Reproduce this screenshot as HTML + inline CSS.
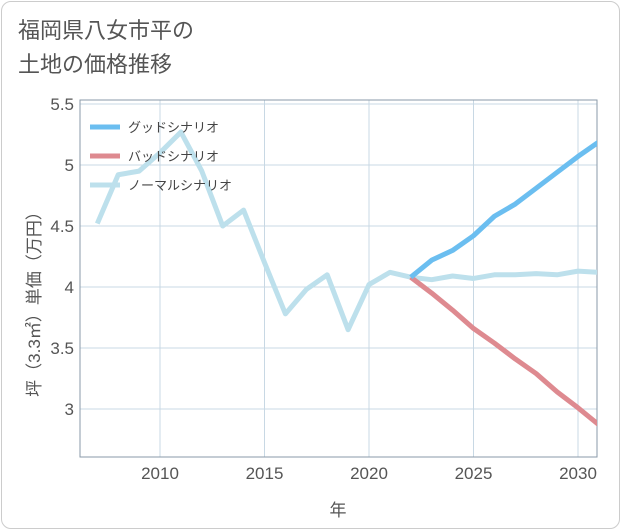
<!DOCTYPE html>
<html><head><meta charset="utf-8"><style>
body{margin:0;background:#fff;font-family:"Liberation Sans","Noto Sans CJK JP",sans-serif;}
#card{position:absolute;left:1px;top:1px;width:617px;height:526px;border:1px solid #ccc;border-radius:10px;background:#fff;}
#title{position:absolute;left:18px;top:14px;font-size:22px;line-height:34px;color:#555;}
</style></head><body>
<div id="card"></div>
<div id="title">福岡県八女市平の<br>土地の価格推移</div>
<svg id="chart" width="621" height="530" style="position:absolute;left:0;top:0"></svg>
<script>
const years=[2007,2008,2009,2010,2011,2012,2013,2014,2015,2016,2017,2018,2019,2020,2021,2022,2023,2024,2025,2026,2027,2028,2029,2030,2031];
const normal=[4.52,4.92,4.95,5.1,5.27,4.95,4.5,4.63,4.2,3.78,3.98,4.1,3.65,4.02,4.12,4.08,4.06,4.09,4.07,4.1,4.1,4.11,4.1,4.13,4.12];
const goodYears=[2022,2023,2024,2025,2026,2027,2028,2029,2030,2031];
const good=[4.08,4.22,4.3,4.42,4.58,4.68,4.81,4.94,5.07,5.19];
const bad=[4.08,3.95,3.81,3.66,3.54,3.41,3.29,3.14,3.01,2.87];
const xTicks=[2010,2015,2020,2025,2030];
const yTicks=[3,3.5,4,4.5,5,5.5];
const yLabels=["3","3.5","4","4.5","5","5.5"];
const L=80,R=597,T=100,B=457;
const x=v=>160+(v-2010)*20.9;
const y=v=>409-(v-3)*122;
const svg=document.getElementById('chart');
const NS='http://www.w3.org/2000/svg';
function mk(t,a,p){const e=document.createElementNS(NS,t);for(const k in a)e.setAttribute(k,a[k]);(p||svg).appendChild(e);return e;}
const defs=mk('defs',{});const cp=mk('clipPath',{id:'c'},defs);mk('rect',{x:L,y:T,width:R-L,height:B-T},cp);
for(let i=0;i<yTicks.length;i++){const v=yTicks[i];
 const g=mk('line',{x1:L,x2:R,y1:y(v),y2:y(v),stroke:'#c8d8e4','stroke-width':1});
 
 const t=mk('text',{x:L-6,y:y(v)+6,'text-anchor':'end','font-size':17,fill:'#555'});t.textContent=yLabels[i];
 }
for(const v of xTicks){
 const g=mk('line',{x1:x(v),x2:x(v),y1:T,y2:B,stroke:'#c8d8e4','stroke-width':1});
 
 const t=mk('text',{x:x(v),y:B+22,'text-anchor':'middle','font-size':17,fill:'#555'});t.textContent=v;
 }
const fr=mk('rect',{x:L,y:T,width:R-L,height:B-T,fill:'none',stroke:'#8a9aa8','stroke-width':1});

function line(xs,vs,col,name){const p=mk('polyline',{points:xs.map((a,i)=>x(a)+','+y(vs[i])).join(' '),fill:'none',stroke:col,'stroke-width':5,'stroke-linejoin':'round','clip-path':'url(#c)'});
 }
line(years,normal,'#bde0ec','normal-scenario-line');
line(goodYears,bad,'#de8a90','bad-scenario-line');
line(goodYears,good,'#6bbef0','good-scenario-line');
const leg=[['グッドシナリオ','#6bbef0'],['バッドシナリオ','#de8a90'],['ノーマルシナリオ','#bde0ec']];
leg.forEach((d,i)=>{const yy=127+i*29;
 const l=mk('line',{x1:90,x2:120,y1:yy,y2:yy,stroke:d[1],'stroke-width':5});
 
 const t=mk('text',{x:128,y:yy+5,'font-size':13,fill:'#444'});t.textContent=d[0];
 });
const xt=mk('text',{x:338,y:516,'text-anchor':'middle','font-size':17,fill:'#555'});xt.textContent='年';

const yt=mk('text',{x:0,y:0,'text-anchor':'middle','font-size':17,fill:'#555',transform:'translate(40,300) rotate(-90)'});yt.textContent='坪（3.3㎡）単価（万円）';

</script>
</body></html>
